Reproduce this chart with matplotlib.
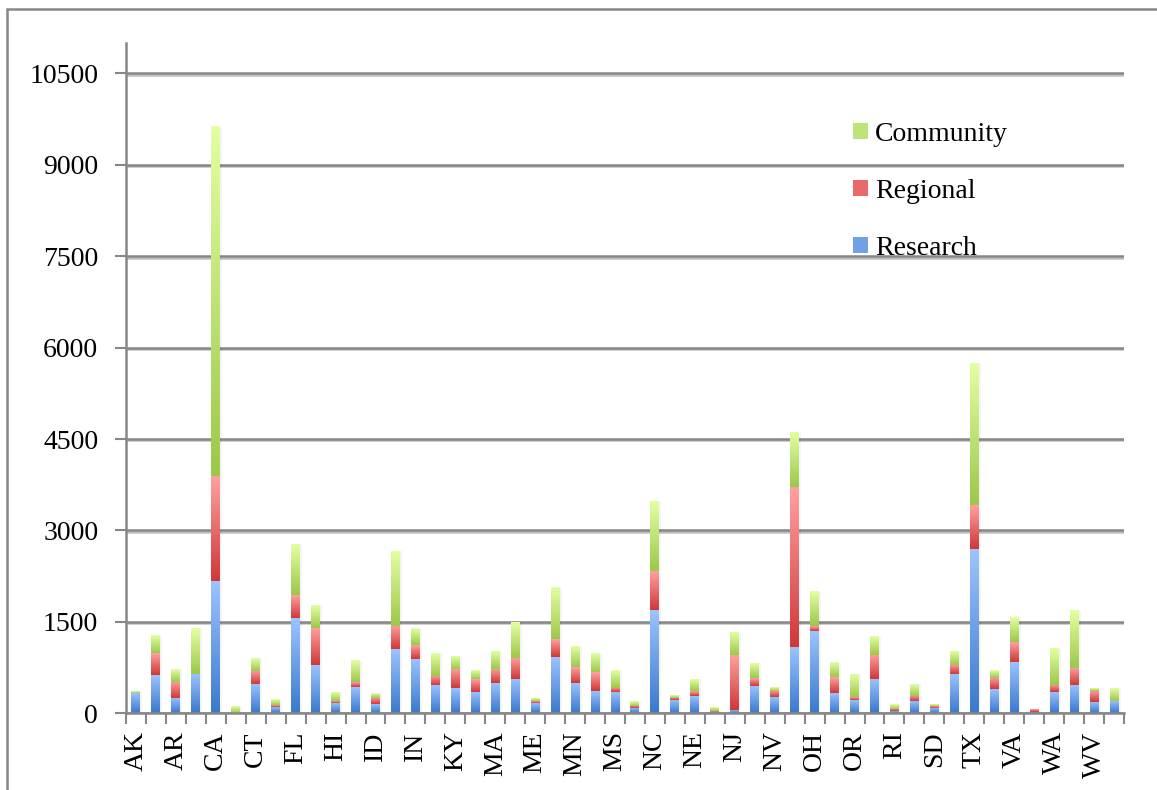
import numpy as np
import matplotlib
matplotlib.use('Agg')
import matplotlib.pyplot as plt
from matplotlib.colors import LinearSegmentedColormap
from matplotlib.patches import Patch, Rectangle
from matplotlib import patheffects

#--------------ДАНІ-----------------
states = ['AK', 'AL', 'AR', 'AZ', 'CA', 'CO', 'CT', 'DE', 'FL', 'GA',
          'HI', 'IA', 'ID', 'IL', 'IN', 'KS', 'KY', 'LA', 'MA', 'MD',
          'ME', 'MI', 'MN', 'MO', 'MS', 'MT', 'NC', 'ND', 'NE', 'NH',
          'NJ', 'NM', 'NV', 'NY', 'OH', 'OK', 'OR', 'PA', 'RI', 'SC',
          'SD', 'TN', 'TX', 'UT', 'VA', 'VT', 'WA', 'WI', 'WV', 'WY']

research = [330, 629, 252, 651, 2172, 0, 481, 104, 1565, 793,
            170, 432, 153, 1056, 892, 465, 416, 350, 498, 563,
            170, 925, 498, 367, 350, 88, 1696, 219, 285, 20,
            55, 449, 268, 1089, 1351, 334, 219, 563, 38, 202,
            88, 645, 2697, 400, 843, 22, 350, 465, 186, 202]

regional = [0, 361, 268, 0, 1719, 0, 214, 27, 377, 613,
            27, 82, 104, 378, 229, 153, 312, 213, 230, 351,
            27, 295, 262, 311, 66, 33, 640, 33, 82, 10,
            902, 131, 99, 2622, 82, 262, 49, 394, 33, 83,
            32, 148, 722, 185, 328, 33, 115, 279, 181, 0]

community = [30, 280, 208, 750, 5731, 105, 213, 88, 821, 372,
             137, 345, 77, 1230, 263, 372, 197, 132, 279, 585,
             38, 837, 329, 296, 279, 66, 1148, 49, 196, 58,
             362, 246, 65, 887, 558, 230, 377, 296, 66, 196,
             17, 214, 2328, 126, 394, 0, 591, 936, 49, 198]

y_ticks = [0, 1500, 3000, 4500, 6000, 7500, 9000, 10500]

#--------------СТИЛЬ-----------------
plt.rcParams['font.family'] = ['Liberation Serif', 'DejaVu Serif']
grid_color = '#878787'
bar_w = 0.45

# градієнти: знизу темніше, зверху світліше
series = [
    ('Research', research, ['#3b79cc', '#9cc4ff'], '#6fa0e8'),
    ('Regional', regional, ['#d03838', '#ffa0a0'], '#e86a6a'),
    ('Community', community, ['#9cc84a', '#e2ffa2'], '#bde476'),
]

fig = plt.figure(figsize=(11.57, 7.90), dpi=100)
ax = fig.add_axes([126 / 1157, 1 - 713.3 / 790, (1124 - 126) / 1157, (713.3 - 43) / 790])

x = np.arange(len(states))
totals = np.array(research) + np.array(regional) + np.array(community)

# легка тінь праворуч від стовпців
ax.bar(x + 0.1, totals, width=bar_w, color='#000000', alpha=0.045, zorder=2, linewidth=0)

grad = np.linspace(0, 1, 64).reshape(-1, 1)
bottom = np.zeros(len(states))
for name, vals, cols, mid in series:
    vals = np.array(vals, dtype=float)
    cmap = LinearSegmentedColormap.from_list(name, cols)
    bars = ax.bar(x, vals, width=bar_w, bottom=bottom, color='none', linewidth=0, zorder=3)
    for b in bars:
        if b.get_height() <= 0:
            continue
        x0, y0 = b.get_x(), b.get_y()
        ax.imshow(grad, cmap=cmap, origin='lower', aspect='auto', zorder=3,
                  extent=[x0, x0 + b.get_width(), y0, y0 + b.get_height()])
    bottom += vals

#--------------ОСІ-----------------
ax.set_xlim(-0.5, len(states) - 0.5)
ax.set_ylim(0, 11000)
ax.set_yticks(y_ticks)
ax.set_yticklabels([str(v) for v in y_ticks], fontsize=20)
ax.tick_params(axis='y', length=8, width=1.5, color=grid_color, pad=12)

ax.set_xticks(x[::2])
ax.set_xticklabels(states[::2], rotation=90, fontsize=20, va='top')
ax.set_xticks(np.arange(-0.5, len(states)), minor=True)
ax.tick_params(axis='x', which='major', length=0, pad=13)
ax.tick_params(axis='x', which='minor', length=8, width=1.5, color=grid_color)

for side in ['top', 'right']:
    ax.spines[side].set_visible(False)
for side in ['left', 'bottom']:
    ax.spines[side].set_color(grid_color)
    ax.spines[side].set_linewidth(1.8)
    ax.spines[side].set_zorder(4)

ax.yaxis.grid(True, color=grid_color, linewidth=1.8, zorder=1)
ax.set_axisbelow(True)
for gl in ax.get_ygridlines():
    gl.set_path_effects([patheffects.SimpleLineShadow(offset=(0, -1), alpha=0.25),
                         patheffects.Normal()])

#--------------ЛЕГЕНДА-----------------
handles = [Patch(facecolor=mid, edgecolor='none', label=name) for name, _, _, mid in series[::-1]]
ax.legend(handles=handles, loc='upper left', bbox_to_anchor=(839 / 1157, 1 - 108 / 790),
          bbox_transform=fig.transFigure, frameon=False, fontsize=20, borderpad=0,
          handlelength=0.55, handleheight=0.55, handletextpad=0.25, labelspacing=1.15)

# рамка навколо всієї діаграми
fig.patches.append(Rectangle((7 / 1157, -0.05), 1.2, 1 - 9 / 790 + 0.05, transform=fig.transFigure,
                             fill=False, edgecolor=grid_color, linewidth=1.8))

fig.savefig('out.png', dpi=100)
